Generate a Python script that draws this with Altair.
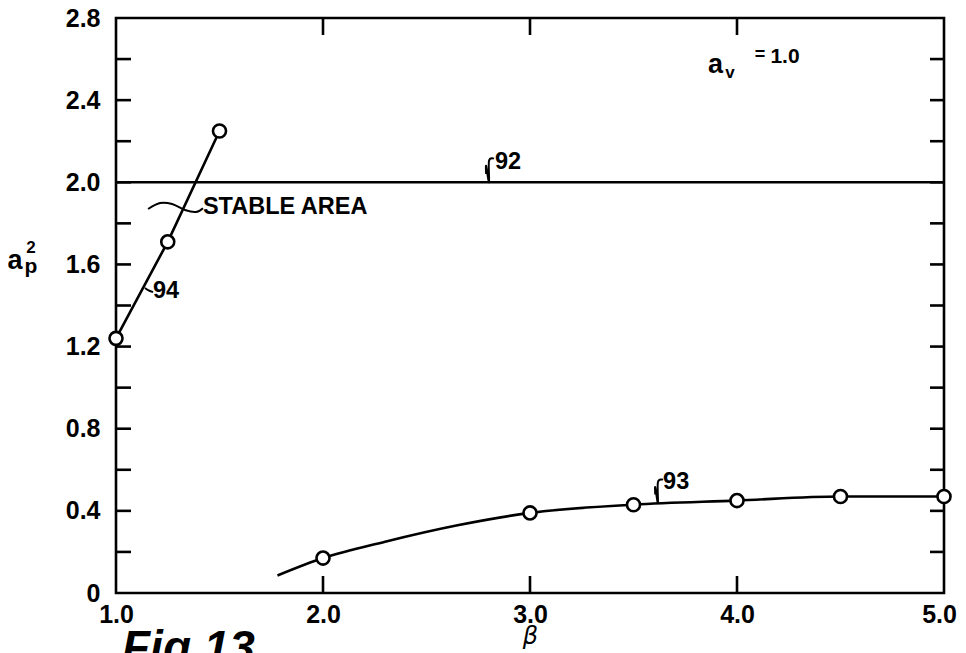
import altair as alt
import pandas as pd

# ---- data ----
beta_94 = [1.0, 1.25, 1.5]
ap2_94 = [1.24, 1.71, 2.25]

beta_93_curve = [1.78, 2.0, 2.3, 2.65, 3.0, 3.5, 4.0, 4.5, 5.0]
ap2_93_curve = [0.085, 0.17, 0.25, 0.33, 0.39, 0.43, 0.45, 0.47, 0.47]
beta_93_pts = [2.0, 3.0, 3.5, 4.0, 4.5, 5.0]
ap2_93_pts = [0.17, 0.39, 0.43, 0.45, 0.47, 0.47]

level_92 = [2.0]

x_label_vals = [1.0, 2.0, 3.0, 4.0, 5.0]
y_label_vals = [0.0, 0.4, 0.8, 1.2, 1.6, 2.0, 2.4, 2.8]
y_minor = [0.2, 0.4, 0.6, 0.8, 1.0, 1.2, 1.4, 1.6, 1.8, 2.0, 2.2, 2.4, 2.6]
x_minor = [2.0, 3.0, 4.0]

# annotation texts and their leader curves
ann_text = ["92", "93", "STABLE AREA", "94"]
ann_x = [2.831, 3.643, 1.420, 1.179]
ann_y = [2.098, 0.540, 1.879, 1.470]

lead_id = ["92"] * 5 + ["93"] * 5 + ["SA"] * 6 + ["94"] * 3
lead_x = [2.802, 2.788, 2.788, 2.802, 2.826,
          3.618, 3.605, 3.605, 3.618, 3.643,
          1.155, 1.213, 1.271, 1.333, 1.386, 1.420,
          1.140, 1.155, 1.179]
lead_y = [2.000, 2.040, 2.080, 2.105, 2.115,
          0.438, 0.480, 0.515, 0.540, 0.552,
          1.870, 1.899, 1.894, 1.865, 1.855, 1.874,
          1.485, 1.475, 1.465]

# a_v = 1.0 note
av_x = [3.896, 3.966, 4.111, 4.232]
av_y = [2.571, 2.532, 2.619, 2.610]
av_t = ["a", "v", "=", "1.0"]

W, H = 828, 575
FONT = "Liberation Sans"

xs = alt.Scale(domain=[1, 5], nice=False, zero=False)
ys = alt.Scale(domain=[0, 2.8], nice=False, zero=False)

xaxis = alt.Axis(values=x_label_vals, format=".1f", ticks=False, domain=False, grid=False,
                 labelFont=FONT, labelFontWeight="bold", labelFontSize=25, labelColor="black",
                 labelFlush=False, labelOverlap=False, labelPadding=9,
                 labelOffset={"condition": {"test": "datum.value == 5", "value": -5}, "value": 0},
                 title="β", titleFont="DejaVu Sans", titleFontStyle="italic",
                 titleFontWeight="normal", titleFontSize=24, titleColor="black", titlePadding=-3)
yaxis = alt.Axis(values=y_label_vals, ticks=False, domain=False, grid=False,
                 labelExpr="datum.value == 0 ? '0' : format(datum.value, '.1f')",
                 labelFont=FONT, labelFontWeight="bold", labelFontSize=25, labelColor="black",
                 labelFlush=False, labelOverlap=False, labelPadding=16, title=None)

X = alt.X("x:Q", scale=xs, axis=xaxis)
Y = alt.Y("y:Q", scale=ys, axis=yaxis)

df94 = pd.DataFrame({"x": beta_94, "y": ap2_94})
df93c = pd.DataFrame({"x": beta_93_curve, "y": ap2_93_curve})
df93p = pd.DataFrame({"x": beta_93_pts, "y": ap2_93_pts})
df92 = pd.DataFrame({"y": level_92})
dfym = pd.DataFrame({"y": y_minor})
dfxm = pd.DataFrame({"x": x_minor})
dfann = pd.DataFrame({"x": ann_x, "y": ann_y, "t": ann_text})
dflead = pd.DataFrame({"x": lead_x, "y": lead_y, "id": lead_id})
dfav = pd.DataFrame({"x": av_x, "y": av_y, "t": av_t})

ink = "black"
SW = 2.6

left_ticks = alt.Chart(dfym).mark_rule(color=ink, strokeWidth=SW).encode(
    y=Y, x=alt.value(0), x2=alt.value(15))
right_ticks = alt.Chart(dfym).mark_rule(color=ink, strokeWidth=SW).encode(
    y=Y, x=alt.value(W - 14), x2=alt.value(W))
top_ticks = alt.Chart(dfxm).mark_rule(color=ink, strokeWidth=SW).encode(
    x=X, y=alt.value(0), y2=alt.value(17))
bot_ticks = alt.Chart(dfxm).mark_rule(color=ink, strokeWidth=SW).encode(
    x=X, y=alt.value(H - 17), y2=alt.value(H))

line92 = alt.Chart(df92).mark_rule(color=ink, strokeWidth=2.4).encode(y=Y)
line94 = alt.Chart(df94).mark_line(color=ink, strokeWidth=SW).encode(x=X, y=Y)
line93 = alt.Chart(df93c).mark_line(color=ink, strokeWidth=SW, interpolate="monotone").encode(x=X, y=Y)

pts94 = alt.Chart(df94).mark_circle(fill="white", stroke=ink, strokeWidth=2.6, size=170, opacity=1).encode(x=X, y=Y)
pts93 = alt.Chart(df93p).mark_circle(fill="white", stroke=ink, strokeWidth=2.6, size=170, opacity=1).encode(x=X, y=Y)

leaders = alt.Chart(dflead).mark_line(color=ink, strokeWidth=2, interpolate="cardinal").encode(
    x=X, y=Y, detail="id:N")
labels = alt.Chart(dfann).mark_text(font=FONT, fontWeight="bold", fontSize=23.5, color=ink,
                                    align="left", baseline="middle").encode(x=X, y=Y, text="t:N")

def av_piece(i, size):
    return alt.Chart(dfav.iloc[[i]]).mark_text(font=FONT, fontWeight="bold", fontSize=size,
                                                 color=ink, align="center",
                                                 baseline="middle").encode(x=X, y=Y, text="t:N")

av_a = av_piece(0, 27)
av_v = av_piece(1, 17)
av_eq = av_piece(2, 18)
av_n = av_piece(3, 21)

# y-axis title a_p^2
yt_a = alt.Chart(df92).mark_text(text="a", font=FONT, fontWeight="bold", fontSize=27, color=ink,
                                 align="center", baseline="middle").encode(
    x=alt.value(-101), y=alt.value(243))
yt_2 = alt.Chart(df92).mark_text(text="2", font=FONT, fontWeight="bold", fontSize=17, color=ink,
                                 align="center", baseline="middle").encode(
    x=alt.value(-85), y=alt.value(230))
yt_p = alt.Chart(df92).mark_text(text="p", font=FONT, fontWeight="bold", fontSize=21, color=ink,
                                 align="center", baseline="middle").encode(
    x=alt.value(-85), y=alt.value(249))

fig = alt.Chart(df92).mark_text(text="Fig 13", font=FONT, fontStyle="italic", fontWeight="bold",
                                fontSize=46, color=ink, align="left",
                                baseline="alphabetic").encode(
    x=alt.value(6), y=alt.value(645))

chart = alt.layer(
    left_ticks, right_ticks, top_ticks, bot_ticks,
    line92, line94, line93, leaders, pts94, pts93, labels,
    av_a, av_v, av_eq, av_n,
    yt_a, yt_2, yt_p, fig
).properties(
    width=W, height=H, autosize="none",
    padding={"left": 108, "top": 10, "right": 14, "bottom": 60},
    background="white"
).configure_view(stroke=ink, strokeWidth=2.6)

chart.save("out.html", embed_options={"renderer": "svg", "actions": False})
